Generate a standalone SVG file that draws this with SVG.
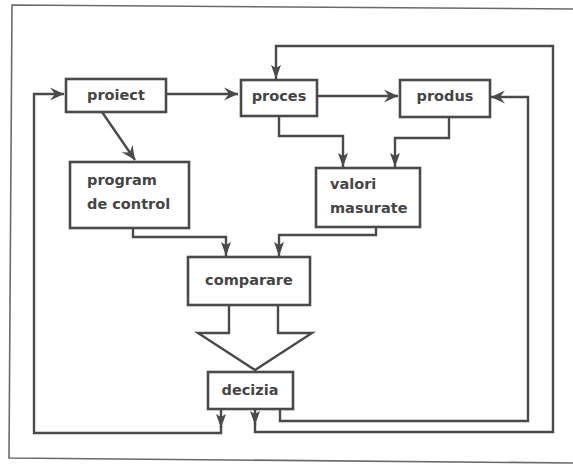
<svg xmlns="http://www.w3.org/2000/svg" width="573" height="464" viewBox="0 0 573 464">
<style>
.box{fill:#fff;stroke:#4a4a4a;stroke-width:2.6}
.lbl{font-family:"DejaVu Sans",sans-serif;font-weight:bold;font-size:14.5px;fill:#454545}
.c{fill:none;stroke:#4a4a4a;stroke-width:2.4;stroke-linejoin:miter}
.frame{fill:none;stroke:#6a6a6a;stroke-width:1.6}
</style>
<defs>
<marker id="ah" viewBox="-15 -8 16 16" refX="0" refY="0" markerWidth="16" markerHeight="16" markerUnits="userSpaceOnUse" orient="auto">
<path d="M0,0 L-14,-6.5 L-9,0 L-14,6.5 z" fill="#4a4a4a"/>
</marker>
<marker id="ad" viewBox="-15 -7 16 14" refX="0" refY="0" markerWidth="16" markerHeight="14" markerUnits="userSpaceOnUse" orient="auto">
<path d="M0,0 L-14,-5 L-11,0 L-14,5 z" fill="#4a4a4a"/>
</marker>
</defs>
<rect width="573" height="464" fill="#fff"/>
<path class="frame" d="M573,9 L12,5 L9,458 L573,463"/>

<g id="connectors">
<path class="c" d="M166,94 H238" marker-end="url(#ah)"/>
<path class="c" d="M317,96 H398" marker-end="url(#ah)"/>
<path class="c" d="M102,112 L135,160" marker-end="url(#ah)"/>
<path class="c" d="M279,116 V136 H343 V167" marker-end="url(#ad)"/>
<path class="c" d="M449,117 V138 H395 V167" marker-end="url(#ad)"/>
<path class="c" d="M133,228 V237 H226 V256" marker-end="url(#ad)"/>
<path class="c" d="M376,227 V235 H279 V256" marker-end="url(#ad)"/>
<path class="c" d="M229,305 V333 H198 L255,370 L312,333 H278 V305" fill="#fff"/>
<path class="c" d="M221,409 V428" marker-end="url(#ad)"/>
<path class="c" d="M221,426 V433 H34 V94 H64" marker-end="url(#ah)"/>
<path class="c" d="M255,409 V425" marker-end="url(#ad)"/>
<path class="c" d="M255,423 V432 H553 V46 H276 V79" marker-end="url(#ad)"/>
<path class="c" d="M280,409 V421 H528 V97 H491" marker-end="url(#ah)"/>
</g>

<g id="proiect">
<rect class="box" x="66" y="79" width="100" height="33"/>
<text class="lbl" x="116" y="100" text-anchor="middle">proiect</text>
</g>
<g id="proces">
<rect class="box" x="241" y="80" width="76" height="36"/>
<text class="lbl" x="279" y="101" text-anchor="middle">proces</text>
</g>
<g id="produs">
<rect class="box" x="400" y="80" width="90" height="37"/>
<text class="lbl" x="445" y="101" text-anchor="middle">produs</text>
</g>
<g id="program">
<rect class="box" x="70" y="162" width="119" height="66"/>
<text class="lbl" x="87" y="185">program</text>
<text class="lbl" x="87" y="209">de control</text>
</g>
<g id="valori">
<rect class="box" x="316" y="168" width="104" height="59"/>
<text class="lbl" x="330" y="189">valori</text>
<text class="lbl" x="330" y="213">masurate</text>
</g>
<g id="comparare">
<rect class="box" x="188" y="257" width="122" height="48"/>
<text class="lbl" x="249" y="285" text-anchor="middle">comparare</text>
</g>
<g id="decizia">
<rect class="box" x="208" y="372" width="85" height="37"/>
<text class="lbl" x="250" y="395" text-anchor="middle">decizia</text>
</g>
</svg>
